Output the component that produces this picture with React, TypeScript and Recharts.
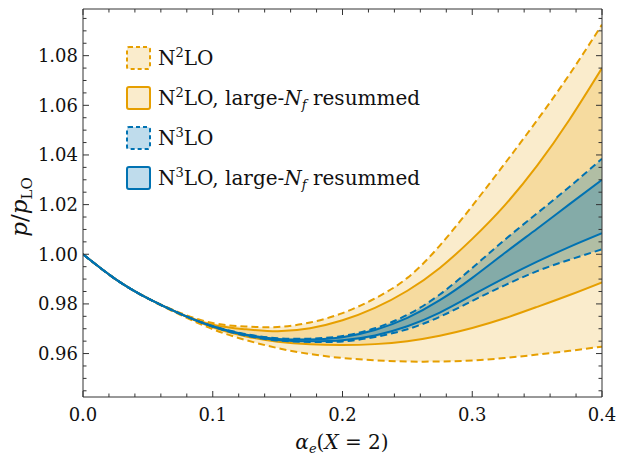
import React from 'react';
import { ComposedChart, Area, Line, XAxis, YAxis } from 'recharts';

// alpha_e(X = 2) sample points
const xs = [0, 0.025, 0.05, 0.075, 0.1, 0.125, 0.15, 0.175, 0.2, 0.225, 0.25, 0.275, 0.3, 0.325, 0.35, 0.375, 0.4];

// N2LO band (dashed)
const n2Lo = [1.0, 0.99, 0.9821, 0.9756, 0.9698, 0.9655, 0.9622, 0.9598, 0.9582, 0.9573, 0.9568, 0.9568, 0.9572, 0.9582, 0.9596, 0.9611, 0.9628];
const n2Hi = [1.0, 0.99, 0.9823, 0.9764, 0.9723, 0.9709, 0.9707, 0.9725, 0.9763, 0.9822, 0.9905, 1.0035, 1.0195, 1.0365, 1.054, 1.0725, 1.0925];
// N2LO, large-Nf resummed (solid)
const n2rLo = [1.0, 0.99, 0.9822, 0.9759, 0.9706, 0.967, 0.9648, 0.9637, 0.9634, 0.9638, 0.965, 0.9672, 0.9703, 0.9742, 0.9788, 0.9836, 0.9887];
const n2rHi = [1.0, 0.99, 0.9822, 0.9761, 0.9716, 0.9698, 0.969, 0.9702, 0.9734, 0.9784, 0.9853, 0.9945, 1.0062, 1.0197, 1.0357, 1.0543, 1.075];
// N3LO band (dashed)
const n3Lo = [1.0, 0.99, 0.9822, 0.976, 0.9708, 0.9673, 0.9653, 0.9647, 0.9649, 0.9667, 0.9698, 0.9748, 0.9812, 0.9875, 0.9932, 0.9978, 1.002];
const n3Hi = [1.0, 0.99, 0.9822, 0.976, 0.9711, 0.9679, 0.9662, 0.966, 0.9671, 0.9702, 0.9756, 0.9838, 0.9945, 1.0058, 1.0165, 1.0272, 1.0385];
// N3LO, large-Nf resummed (solid)
const n3rLo = [1.0, 0.99, 0.9822, 0.976, 0.9709, 0.9675, 0.9655, 0.965, 0.9654, 0.9673, 0.971, 0.9765, 0.9835, 0.9905, 0.997, 1.003, 1.0085];
const n3rHi = [1.0, 0.99, 0.9822, 0.976, 0.971, 0.9677, 0.9659, 0.9657, 0.9666, 0.9695, 0.9744, 0.9815, 0.9905, 1.0005, 1.0103, 1.0202, 1.03];

const xTicks = [0, 0.02, 0.04, 0.06, 0.08, 0.1, 0.12, 0.14, 0.16, 0.18, 0.2, 0.22, 0.24, 0.26, 0.28, 0.3, 0.32, 0.34, 0.36, 0.38, 0.4];
const xLabels = ['0.0', '0.1', '0.2', '0.3', '0.4'];
const yTicks = [0.945, 0.95, 0.955, 0.96, 0.965, 0.97, 0.975, 0.98, 0.985, 0.99, 0.995, 1.0, 1.005, 1.01, 1.015, 1.02, 1.025, 1.03, 1.035, 1.04, 1.045, 1.05, 1.055, 1.06, 1.065, 1.07, 1.075, 1.08, 1.085, 1.09, 1.095];
const yLabels = ['0.96', '0.98', '1.00', '1.02', '1.04', '1.06', '1.08'];

const ORANGE = '#E69F00';
const BLUE = '#0072B2';
const FRAME = '#333';
const FONT = '"DejaVu Serif", serif';

const data = xs.map((x, i) => ({
    x,
    n2: [n2Lo[i], n2Hi[i]],
    n2r: [n2rLo[i], n2rHi[i]],
    n3: [n3Lo[i], n3Hi[i]],
    n3r: [n3rLo[i], n3rHi[i]],
    n2Lo: n2Lo[i],
    n2Hi: n2Hi[i],
    n2rLo: n2rLo[i],
    n2rHi: n2rHi[i],
    n3Lo: n3Lo[i],
    n3Hi: n3Hi[i],
    n3rLo: n3rLo[i],
    n3rHi: n3rHi[i],
}));

const findLabel = (v: number, labels: string[]) => labels.find((l) => Math.abs(parseFloat(l) - v) < 1e-6);

const BottomTick = ({ x, y, payload }: any) => {
    const label = findLabel(payload.value, xLabels);
    return (
        <g>
            <line x1={x} y1={y} x2={x} y2={y - (label ? 6 : 3.5)} stroke={FRAME} />
            {label && (
                <text x={x} y={y + 24} textAnchor="middle" fontFamily={FONT} fontSize={18} fill="#111">
                    {label}
                </text>
            )}
        </g>
    );
};

const TopTick = ({ x, y, payload }: any) => {
    const major = findLabel(payload.value, xLabels);
    return <line x1={x} y1={y} x2={x} y2={y + (major ? 6 : 3.5)} stroke={FRAME} />;
};

const LeftTick = ({ x, y, payload }: any) => {
    const label = findLabel(payload.value, yLabels);
    return (
        <g>
            <line x1={x} y1={y} x2={x + (label ? 6 : 3.5)} y2={y} stroke={FRAME} />
            {label && (
                <text x={x - 5} y={y} dy="0.36em" textAnchor="end" fontFamily={FONT} fontSize={18} fill="#111">
                    {label}
                </text>
            )}
        </g>
    );
};

const RightTick = ({ x, y, payload }: any) => {
    const major = findLabel(payload.value, yLabels);
    return <line x1={x} y1={y} x2={x - (major ? 6 : 3.5)} y2={y} stroke={FRAME} />;
};

const legendRows = [
    { color: ORANGE, fill: 'rgba(230,159,0,0.2)', dashed: true, sup: '2', resummed: false },
    { color: ORANGE, fill: 'rgba(230,159,0,0.2)', dashed: false, sup: '2', resummed: true },
    { color: BLUE, fill: 'rgba(0,114,178,0.25)', dashed: true, sup: '3', resummed: false },
    { color: BLUE, fill: 'rgba(0,114,178,0.25)', dashed: false, sup: '3', resummed: true },
];

const App: React.FC = () => {
    const common = { xAxisId: 'b', yAxisId: 'l', isAnimationActive: false } as const;
    return (
        <div style={{ position: 'absolute', left: 0, top: 0, width: 617, height: 458, background: '#fff' }}>
            <ComposedChart width={617} height={458} data={data} margin={{ top: 0, right: 0, bottom: 0, left: 0 }}>
                <XAxis xAxisId="b" type="number" dataKey="x" domain={[0, 0.4]} ticks={xTicks} interval={0}
                    height={61} tickSize={0} tickMargin={0} axisLine={{ stroke: FRAME }} tick={<BottomTick />} allowDataOverflow />
                <XAxis xAxisId="t" orientation="top" type="number" dataKey="x" domain={[0, 0.4]} ticks={xTicks} interval={0}
                    height={9} tickSize={0} tickMargin={0} axisLine={{ stroke: FRAME }} tick={<TopTick />} allowDataOverflow />
                <YAxis yAxisId="l" type="number" domain={[0.9425, 1.0988]} ticks={yTicks} interval={0}
                    width={83} tickSize={0} tickMargin={0} axisLine={{ stroke: FRAME }} tick={<LeftTick />} allowDataOverflow />
                <YAxis yAxisId="r" orientation="right" type="number" domain={[0.9425, 1.0988]} ticks={yTicks} interval={0}
                    width={15} tickSize={0} tickMargin={0} axisLine={{ stroke: FRAME }} tick={<RightTick />} allowDataOverflow />

                <Area {...common} type="natural" dataKey="n2" stroke="none" fill={ORANGE} fillOpacity={0.2} />
                <Area {...common} type="natural" dataKey="n2r" stroke="none" fill={ORANGE} fillOpacity={0.22} />
                <Area {...common} type="natural" dataKey="n3" stroke="none" fill={BLUE} fillOpacity={0.28} />
                <Area {...common} type="natural" dataKey="n3r" stroke="none" fill={BLUE} fillOpacity={0.25} />

                <Line {...common} type="natural" dataKey="n2Hi" stroke={ORANGE} strokeWidth={2} strokeDasharray="7 4" dot={false} />
                <Line {...common} type="natural" dataKey="n2Lo" stroke={ORANGE} strokeWidth={2} strokeDasharray="7 4" dot={false} />
                <Line {...common} type="natural" dataKey="n2rHi" stroke={ORANGE} strokeWidth={2} dot={false} />
                <Line {...common} type="natural" dataKey="n2rLo" stroke={ORANGE} strokeWidth={2} dot={false} />
                <Line {...common} type="natural" dataKey="n3Hi" stroke={BLUE} strokeWidth={2} strokeDasharray="7 4" dot={false} />
                <Line {...common} type="natural" dataKey="n3Lo" stroke={BLUE} strokeWidth={2} strokeDasharray="7 4" dot={false} />
                <Line {...common} type="natural" dataKey="n3rHi" stroke={BLUE} strokeWidth={2} dot={false} />
                <Line {...common} type="natural" dataKey="n3rLo" stroke={BLUE} strokeWidth={2} dot={false} />
            </ComposedChart>

            {/* legend and axis titles */}
            <svg width={617} height={458} style={{ position: 'absolute', left: 0, top: 0, pointerEvents: 'none' }}>
                {legendRows.map((r, i) => {
                    const top = 47 + i * 40;
                    return (
                        <g key={i}>
                            <rect x={127} y={top} width={23} height={22} rx={2} fill={r.fill} stroke={r.color} strokeWidth={2}
                                strokeDasharray={r.dashed ? '4 3' : undefined} />
                            <text x={158} y={top + 18} fontFamily={FONT} fontSize={20} fill="#111">
                                N<tspan fontSize={13} dy={-8}>{r.sup}</tspan>
                                <tspan dy={8}>LO</tspan>
                                {r.resummed && (
                                    <>
                                        <tspan>, large-</tspan>
                                        <tspan fontStyle="italic">N</tspan>
                                        <tspan fontStyle="italic" fontSize={13} dy={4}>f</tspan>
                                        <tspan dy={-4}> resummed</tspan>
                                    </>
                                )}
                            </text>
                        </g>
                    );
                })}
                <text transform="translate(27,207) rotate(-90)" textAnchor="middle" fontFamily={FONT} fontSize={23} fill="#111">
                    <tspan fontStyle="italic">p</tspan>/<tspan fontStyle="italic">p</tspan>
                    <tspan fontSize={15} dy={5}>LO</tspan>
                </text>
                <text x={342} y={449} textAnchor="middle" fontFamily={FONT} fontSize={20} fill="#111">
                    <tspan fontStyle="italic">α</tspan>
                    <tspan fontStyle="italic" fontSize={13} dy={4}>e</tspan>
                    <tspan dy={-4}>(</tspan>
                    <tspan fontStyle="italic">X</tspan> = 2)
                </text>
            </svg>
        </div>
    );
};

export default App;
